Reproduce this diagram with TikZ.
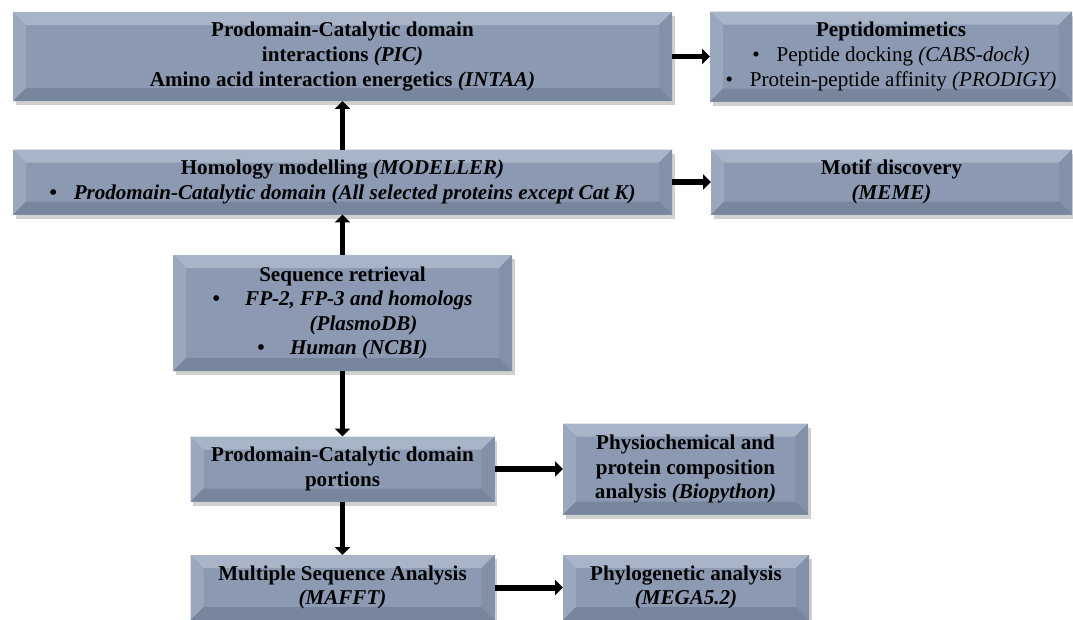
\documentclass[tikz,border=0pt]{standalone}
\usepackage{fontspec}
\setmainfont{Liberation Serif}
\usetikzlibrary{arrows.meta,shadows}

\definecolor{boxface}{RGB}{139,154,178}
\definecolor{bevtop}{RGB}{168,181,200}
\definecolor{bevleft}{RGB}{154,168,189}
\definecolor{bevright}{RGB}{130,145,168}
\definecolor{bevbot}{RGB}{120,134,157}

\newcommand{\bevw}{0.26}
\newcommand{\boxfont}{\fontsize{12}{14}\selectfont}

\tikzset{
  bevelbox/.style={fill=boxface, inner sep=0pt, outer sep=0pt,
    align=center, font=\boxfont\bfseries,
    drop shadow={shadow xshift=1.5pt, shadow yshift=-2.5pt, opacity=0.3, fill=black!60},
    path picture={
      \path (path picture bounding box.north west) coordinate (bv1)
            (path picture bounding box.north east) coordinate (bv2)
            (path picture bounding box.south east) coordinate (bv3)
            (path picture bounding box.south west) coordinate (bv4);
      \fill[bevtop] (bv1) -- (bv2) -- ([shift={(-\bevw,-\bevw)}]bv2) -- ([shift={(\bevw,-\bevw)}]bv1) -- cycle;
      \fill[bevleft] (bv1) -- ([shift={(\bevw,-\bevw)}]bv1) -- ([shift={(\bevw,\bevw)}]bv4) -- (bv4) -- cycle;
      \fill[bevright] (bv2) -- (bv3) -- ([shift={(-\bevw,\bevw)}]bv3) -- ([shift={(-\bevw,-\bevw)}]bv2) -- cycle;
      \fill[bevbot] (bv4) -- ([shift={(\bevw,\bevw)}]bv4) -- ([shift={(-\bevw,\bevw)}]bv3) -- (bv3) -- cycle;
    }},
  flowarrow/.style={-{Triangle[length=4.5pt,width=8.5pt]}, line width=3.4pt},
}

\begin{document}
\begin{tikzpicture}
\useasboundingbox[fill=white] (0,0) rectangle (21.46,-12.38);
%the left column
    %the top boxes
    \node[bevelbox, minimum width=13.18cm, minimum height=1.78cm] (pic) at (6.85,-1.13)
      {Prodomain-Catalytic domain\\ interactions \textit{(PIC)}\\ Amino acid interaction energetics \textit{(INTAA)}};
    \node[bevelbox, minimum width=13.18cm, minimum height=1.3cm] (homol) at (6.85,-3.64)
      {Homology modelling \textit{(MODELLER)}\\ \textbullet\hspace{0.8em}\textit{Prodomain-Catalytic domain (All selected proteins except Cat K)}};
    %the retrieval step
    \node[bevelbox, minimum width=6.78cm, minimum height=2.32cm] (seqret) at (6.85,-6.26)
      {Sequence retrieval\\ \textbullet\hspace{1.2em}\textit{FP-2, FP-3 and homologs}\\ \hspace*{2em}\textit{(PlasmoDB)}\\ \textbullet\hspace{1.2em}\textit{Human (NCBI)}};
    %the lower boxes
    \node[bevelbox, minimum width=6.08cm, minimum height=1.3cm] (portion) at (6.85,-9.38)
      {Prodomain-Catalytic domain\\ portions};
    \node[bevelbox, minimum width=6.08cm, minimum height=1.3cm] (msa) at (6.85,-11.75)
      {Multiple Sequence Analysis\\ \textit{(MAFFT)}};

%the right column
    \node[bevelbox, minimum width=7.24cm, minimum height=1.8cm, font=\boxfont] (peptido) at (17.82,-1.13)
      {\textbf{Peptidomimetics}\\ \textbullet\hspace{0.8em}Peptide docking \textit{(CABS-dock)}\\ \textbullet\hspace{0.8em}Protein-peptide affinity \textit{(PRODIGY)}};
    \node[bevelbox, minimum width=7.22cm, minimum height=1.3cm] (motif) at (17.83,-3.64)
      {Motif discovery\\ \textit{(MEME)}};
    \node[bevelbox, minimum width=4.9cm, minimum height=1.82cm] (physchem) at (13.71,-9.38)
      {Physiochemical and\\ protein composition\\ analysis \textit{(Biopython)}};
    \node[bevelbox, minimum width=4.92cm, minimum height=1.3cm] (phylo) at (13.72,-11.75)
      {Phylogenetic analysis\\ \textit{(MEGA5.2)}};

    %the arrows
    \begin{scope}[every path/.style={flowarrow}]
       \draw (homol) -- (pic);
       \draw (seqret) -- (homol);
       \draw (seqret) -- (portion);
       \draw (portion) -- (msa);
       \draw (pic) -- (peptido);
       \draw (homol) -- (motif);
       \draw (portion) -- (physchem);
       \draw (msa) -- (phylo);
    \end{scope}
\end{tikzpicture}
\end{document}
